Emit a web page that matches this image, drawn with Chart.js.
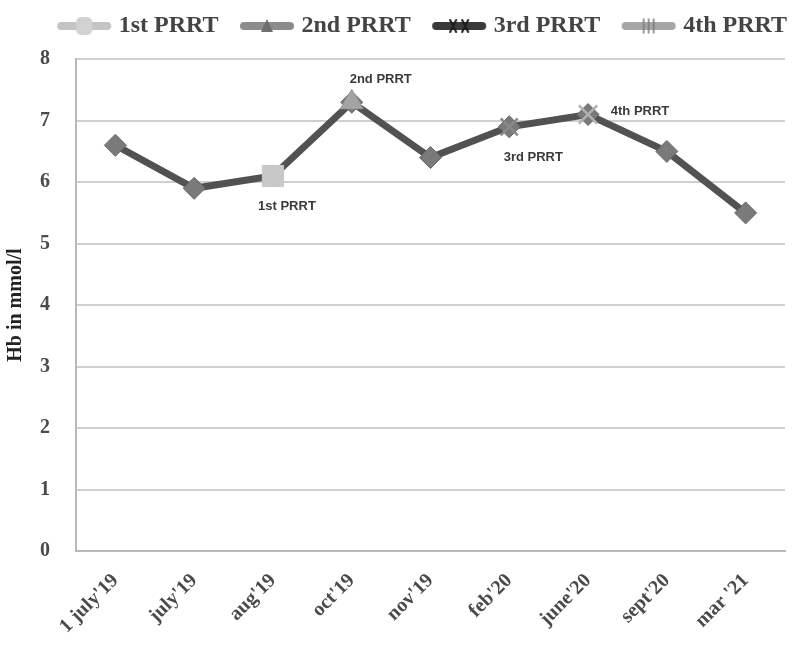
<!DOCTYPE html>
<html><head><meta charset="utf-8">
<script src="https://cdn.jsdelivr.net/npm/chart.js@4/dist/chart.umd.min.js"></script>
<style>html,body{margin:0;padding:0;background:#fff}#wrap{width:793px;height:652px}</style>
</head><body><div id="wrap"><canvas id="c" width="793" height="652"></canvas></div>
<script>
const categories = ["1 july'19","july'19","aug'19","oct'19","nov'19","feb'20","june'20","sept'20","mar '21"];
const hbValues = [6.6, 5.9, 6.1, 7.3, 6.4, 6.9, 7.1, 6.5, 5.5];
const prrtNames = ["1st PRRT","2nd PRRT","3rd PRRT","4th PRRT"];
const prrtIndex = [2, 3, 5, 6];
const yTicks = [0,1,2,3,4,5,6,7,8];

const prrtColors = ["#c4c4c4","#8c8c8c","#3a3a3a","#a6a6a6"];
const prrtStyles = ["rect","triangle","crossRot","crossRot"];
const prrtRadius = [15, 13, 12, 13];

// legend icon: canvas 80 wide, line+marker drawn at 24..78
function legendIcon(i){
  const cv=document.createElement('canvas'); cv.width=80; cv.height=24;
  const g=cv.getContext('2d');
  const x0=24, x1=78, cy=12, cx=(x0+x1)/2;
  g.strokeStyle=prrtColors[i]; g.lineWidth=8; g.lineCap='round';
  g.beginPath(); g.moveTo(x0+4,cy); g.lineTo(x1-4,cy); g.stroke();
  if(i===0){ g.fillStyle='#d2d2d2'; g.beginPath(); g.roundRect(cx-8,cy-9,16,18,5); g.fill(); }
  else if(i===1){ g.fillStyle='#6e6e6e'; g.beginPath(); g.moveTo(cx,cy-7); g.lineTo(cx+6,cy+6); g.lineTo(cx-6,cy+6); g.closePath(); g.fill(); }
  else if(i===2){ g.strokeStyle='#1c1c1c'; g.lineWidth=2; g.beginPath(); g.moveTo(cx-9,cy-6);g.lineTo(cx-3,cy+6);g.moveTo(cx-3,cy-6);g.lineTo(cx-9,cy+6);g.moveTo(cx+3,cy-6);g.lineTo(cx+9,cy+6);g.moveTo(cx+9,cy-6);g.lineTo(cx+3,cy+6);g.stroke(); }
  else { g.strokeStyle='#7a7a7a'; g.lineWidth=1.5; g.beginPath(); g.moveTo(cx-5,cy-7);g.lineTo(cx-5,cy+7);g.moveTo(cx,cy-7);g.lineTo(cx,cy+7);g.moveTo(cx+5,cy-7);g.lineTo(cx+5,cy+7);g.stroke(); }
  return cv;
}

const datasets = [{
  label: 'Hb', data: hbValues, borderColor:'#525252', borderWidth:7,
  pointStyle:'rectRot', pointRadius:11, pointBackgroundColor:'#7a7a7a', pointBorderColor:'#666666', pointBorderWidth:1,
  tension:0, order:5
}];
prrtNames.forEach((n,i)=>{
  const d = categories.map((c,k)=> k===prrtIndex[i] ? hbValues[k] : null);
  datasets.push({label:n, data:d, showLine:false, borderColor:prrtColors[i], backgroundColor:prrtColors[i],
    pointStyle:prrtStyles[i], pointRadius:prrtRadius[i],
    pointBorderColor: i===2?'#8a8a8a':(i===3?'#b0b0b0':(i===1?'#9c9c9c':'#c8c8c8')),
    pointBorderWidth: i>=2?2.5:1, pointBackgroundColor: i===1?'#a4a4a4':(i===0?'#c8c8c8':prrtColors[i]), order:i});
});

const labelOffsets = [[14,30],[29,-23],[24,31],[52,-3]];
const annot = {
  id:'annot',
  afterDatasetsDraw(chart){
    const ctx=chart.ctx; ctx.save();
    ctx.font='bold 13px "Liberation Sans", Arial, sans-serif'; ctx.fillStyle='#3a3a3a';
    ctx.textAlign='center'; ctx.textBaseline='middle';
    prrtNames.forEach((n,i)=>{
      const el = chart.getDatasetMeta(0).data[prrtIndex[i]];
      ctx.fillText(n, el.x+labelOffsets[i][0], el.y+labelOffsets[i][1]);
    });
    ctx.restore();
  }
};

new Chart(document.getElementById('c'), {
  type:'line',
  data:{labels:categories, datasets},
  options:{
    responsive:false, animation:false,
    layout:{autoPadding:false, padding:{left:4,right:2,top:10,bottom:0}},
    plugins:{
      tooltip:{enabled:false},
      subtitle:{display:true, text:'', weight:500, position:'top', font:{size:1}, padding:{top:0,bottom:10}},
      legend:{position:'top', align:'end',
        labels:{usePointStyle:true, pointStyleWidth:67, padding:4, color:'#444',
          font:{family:'"Liberation Serif", serif', size:24, weight:'bold'},
          generateLabels:(chart)=> prrtNames.map((n,i)=>({text:n, pointStyle:legendIcon(i), datasetIndex:i+1, hidden:false, lineWidth:0, fontColor:'#444'}))
        }}
    },
    scales:{
      x:{offset:true, grid:{display:false, drawTicks:false}, border:{display:true,color:'#b8b8b8',width:2},
        ticks:{minRotation:45,maxRotation:45,color:'#4a4a4a',padding:18,
          font:{family:'"Liberation Serif", serif', size:20, weight:'bold'}},
        afterFit:(s)=>{s.height=101; s.paddingRight=8; s.paddingLeft=0;}},
      y:{min:0,max:8, afterBuildTicks:(s)=>{s.ticks=yTicks.map(v=>({value:v}));},
        grid:{color:'#cfcfcf', lineWidth:2, drawTicks:false}, border:{display:true,color:'#b8b8b8',width:2},
        ticks:{color:'#4a4a4a', padding:26, font:{family:'"Liberation Serif", serif', size:20, weight:'bold'}},
        title:{display:true, text:'Hb in mmol/l', color:'#222', padding:0, font:{family:'"Liberation Serif", serif', size:20, weight:'bold'}},
        afterFit:(s)=>{s.width=72;}}
    }
  },
  plugins:[annot]
});
</script></body></html>
